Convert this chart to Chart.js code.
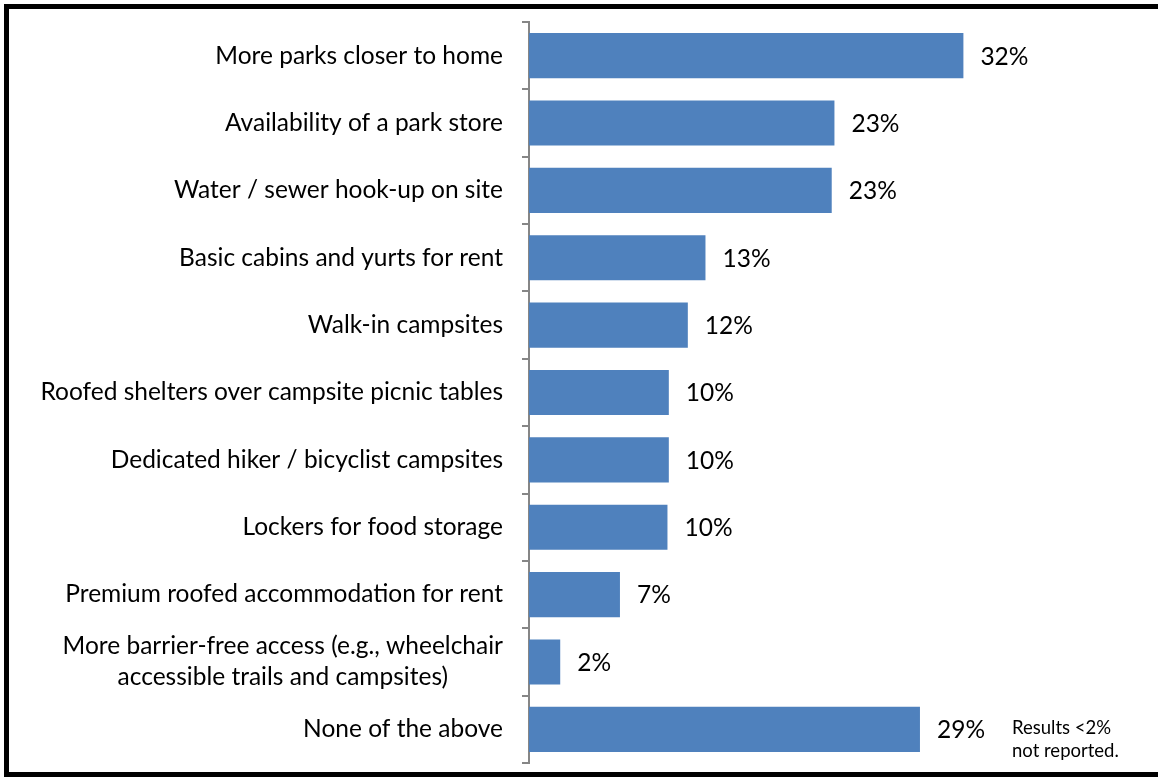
<!DOCTYPE html>
<html>
<head>
<meta charset="utf-8">
<script src="https://cdn.jsdelivr.net/npm/chart.js@4/dist/chart.umd.min.js"></script>
<style>
  html, body { margin: 0; padding: 0; background: #fff; width: 1158px; height: 778px; overflow: hidden; }
  #frame { position: absolute; left: 4px; top: 4px; width: 1154px; height: 773px; border: 5px solid #000; border-right: none; box-sizing: border-box; }
  #wrap { position: absolute; left: 0; top: 0; width: 1158px; height: 778px; }
  #note { position: absolute; left: 1012px; top: 716px; font-family: Lato, "Open Sans", sans-serif; font-size: 18.5px; line-height: 23px; color: #000; }
</style>
</head>
<body>
<div id="frame"></div>
<div id="wrap"><canvas id="c" width="1158" height="778"></canvas></div>
<div id="note">Results &lt;2%<br>not reported.</div>
<script>
// categories as they appear top to bottom
const CATEGORIES = [
  ["More parks closer to home"],
  ["Availability of a park store"],
  ["Water / sewer hook-up on site"],
  ["Basic cabins and yurts for rent"],
  ["Walk-in campsites"],
  ["Roofed shelters over campsite picnic tables"],
  ["Dedicated hiker / bicyclist campsites"],
  ["Lockers for food storage"],
  ["Premium roofed accommodation for rent"],
  ["More barrier-free access (e.g., wheelchair", "accessible trails and campsites)"],
  ["None of the above"],
];
// bar lengths (%)
const VALUES = [32, 22.5, 22.3, 13, 11.7, 10.3, 10.3, 10.2, 6.7, 2.3, 28.8];
// printed labels
const VALUE_LABELS = ["32%", "23%", "23%", "13%", "12%", "10%", "10%", "10%", "7%", "2%", "29%"];

const FONT = '24.5px Lato, "Open Sans", sans-serif';

// draws category labels (right aligned block, wrapped lines centred) and value labels
const labelPlugin = {
  id: "labels",
  afterDatasetsDraw(chart) {
    const ctx = chart.ctx;
    const ys = chart.scales.y;
    const meta = chart.getDatasetMeta(0);
    ctx.save();
    ctx.font = FONT;
    ctx.fillStyle = "#000";
    ctx.textBaseline = "middle";
    const lh = 31;
    CATEGORIES.forEach((lines, i) => {
      const y = ys.getPixelForValue(i);
      const maxW = Math.max(...lines.map(l => ctx.measureText(l).width));
      const right = 503;
      ctx.textAlign = "center";
      lines.forEach((l, k) => {
        const ly = y + (k - (lines.length - 1) / 2) * lh;
        ctx.fillText(l, right - maxW / 2, ly);
      });
    });
    ctx.textAlign = "left";
    meta.data.forEach((bar, i) => {
      ctx.fillText(VALUE_LABELS[i], bar.x + 17, bar.y + 1);
    });
    ctx.restore();
  }
};

new Chart(document.getElementById("c"), {
  type: "bar",
  data: {
    labels: CATEGORIES.map(c => c.join(" ")),
    datasets: [{ data: VALUES, backgroundColor: "#4F81BD", borderWidth: 0, barPercentage: 0.67, categoryPercentage: 1 }]
  },
  options: {
    indexAxis: "y",
    responsive: false,
    animation: false,
    layout: { padding: { top: 22, bottom: 15, right: 86, left: 0 } },
    plugins: { legend: { display: false }, tooltip: { enabled: false } },
    scales: {
      x: { display: false, min: 0, max: 40 },
      y: {
        offset: true,
        ticks: { display: false },
        grid: { drawOnChartArea: false, offset: true, tickLength: 7, color: "#868686", lineWidth: 2 },
        border: { color: "#868686", width: 2 },
        afterFit: s => { s.width = 529; }
      }
    }
  },
  plugins: [labelPlugin]
});
</script>
</body>
</html>
